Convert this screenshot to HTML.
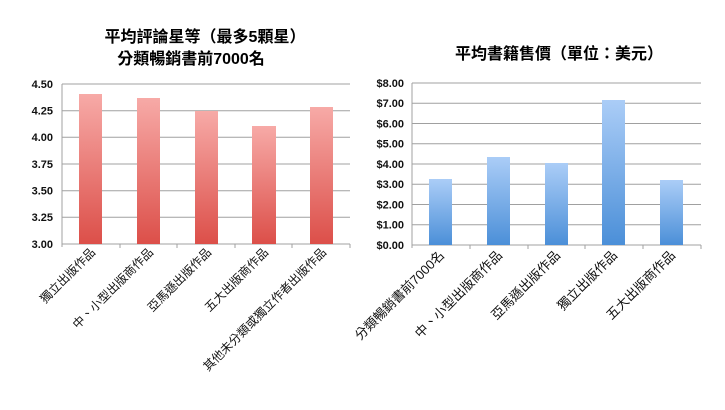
<!DOCTYPE html>
<html><head><meta charset="utf-8"><style>
body{margin:0;background:#fff;}
svg{display:block;font-family:"Liberation Sans","Noto Sans CJK TC",sans-serif;}
</style></head><body>
<svg width="725" height="410" xmlns="http://www.w3.org/2000/svg">
<defs>
<linearGradient id="r" x1="0" y1="0" x2="0" y2="1"><stop offset="0" stop-color="#f7aaa7"/><stop offset="1" stop-color="#dc4f49"/></linearGradient>
<linearGradient id="b" x1="0" y1="0" x2="0" y2="1"><stop offset="0" stop-color="#abcdf7"/><stop offset="1" stop-color="#4b8fd8"/></linearGradient>
</defs>
<g font-weight="bold" font-size="16" text-anchor="middle" fill="#000">
<text x="205" y="42">平均評論星等（最多5顆星）</text>
<text x="191" y="64">分類暢銷書前7000名</text>
<text x="559" y="59">平均書籍售價（單位：美元）</text>
</g>
<g stroke="#a0a0a0" stroke-width="1">
<line x1="62" y1="84" x2="350" y2="84"/><line x1="62" y1="110.7" x2="350" y2="110.7"/><line x1="62" y1="137.3" x2="350" y2="137.3"/><line x1="62" y1="164" x2="350" y2="164"/><line x1="62" y1="190.7" x2="350" y2="190.7"/><line x1="62" y1="217.3" x2="350" y2="217.3"/><line x1="62" y1="244" x2="350" y2="244"/>
<line x1="62" y1="84" x2="62" y2="247"/>
<line x1="120" y1="244" x2="120" y2="248"/><line x1="177" y1="244" x2="177" y2="248"/><line x1="235" y1="244" x2="235" y2="248"/><line x1="292" y1="244" x2="292" y2="248"/><line x1="350" y1="244" x2="350" y2="248"/>
</g>
<g fill="url(#r)">
<rect x="79" y="94" width="23" height="150"/><rect x="137" y="98" width="23" height="146"/><rect x="195" y="111" width="23" height="133"/><rect x="252" y="126" width="24" height="118"/><rect x="310" y="107" width="23" height="137"/>
</g>
<g font-size="11" font-weight="bold" text-anchor="end" fill="#111">
<text x="53" y="88">4.50</text><text x="53" y="114.5">4.25</text><text x="53" y="141">4.00</text><text x="53" y="168">3.75</text><text x="53" y="194.5">3.50</text><text x="53" y="221">3.25</text><text x="53" y="248">3.00</text>
</g>
<g font-size="12" text-anchor="end" fill="#111">
<text transform="translate(96,253) rotate(-45)">獨立出版作品</text>
<text transform="translate(154,253) rotate(-45)">中、小型出版商作品</text>
<text transform="translate(212,253) rotate(-45)">亞馬遜出版作品</text>
<text transform="translate(269,253) rotate(-45)">五大出版商作品</text>
<text transform="translate(327,253) rotate(-45)">其他未分類或獨立作者出版作品</text>
</g>
<g stroke="#a0a0a0" stroke-width="1">
<line x1="412" y1="83" x2="701" y2="83"/><line x1="412" y1="103.3" x2="701" y2="103.3"/><line x1="412" y1="123.5" x2="701" y2="123.5"/><line x1="412" y1="143.8" x2="701" y2="143.8"/><line x1="412" y1="164" x2="701" y2="164"/><line x1="412" y1="184.3" x2="701" y2="184.3"/><line x1="412" y1="204.5" x2="701" y2="204.5"/><line x1="412" y1="224.8" x2="701" y2="224.8"/><line x1="412" y1="245" x2="701" y2="245"/>
<line x1="412" y1="83" x2="412" y2="248"/>
<line x1="470" y1="245" x2="470" y2="249"/><line x1="528" y1="245" x2="528" y2="249"/><line x1="585" y1="245" x2="585" y2="249"/><line x1="643" y1="245" x2="643" y2="249"/><line x1="701" y1="245" x2="701" y2="249"/>
</g>
<g fill="url(#b)">
<rect x="429" y="179" width="23" height="66"/><rect x="487" y="157" width="23" height="88"/><rect x="545" y="163" width="23" height="82"/><rect x="602" y="100" width="23" height="145"/><rect x="660" y="180" width="23" height="65"/>
</g>
<g font-size="11" font-weight="bold" text-anchor="end" fill="#111">
<text x="404" y="87">$8.00</text><text x="404" y="107">$7.00</text><text x="404" y="127.5">$6.00</text><text x="404" y="147.5">$5.00</text><text x="404" y="168">$4.00</text><text x="404" y="188">$3.00</text><text x="404" y="208.5">$2.00</text><text x="404" y="228.5">$1.00</text><text x="404" y="249">$0.00</text>
</g>
<g font-size="13" text-anchor="end" fill="#111">
<text transform="translate(445,256) rotate(-45)">分類暢銷書前7000名</text>
<text transform="translate(503,256) rotate(-45)">中、小型出版商作品</text>
<text transform="translate(561,256) rotate(-45)">亞馬遜出版作品</text>
<text transform="translate(618,256) rotate(-45)">獨立出版作品</text>
<text transform="translate(676,256) rotate(-45)">五大出版商作品</text>
</g>
</svg>
</body></html>
